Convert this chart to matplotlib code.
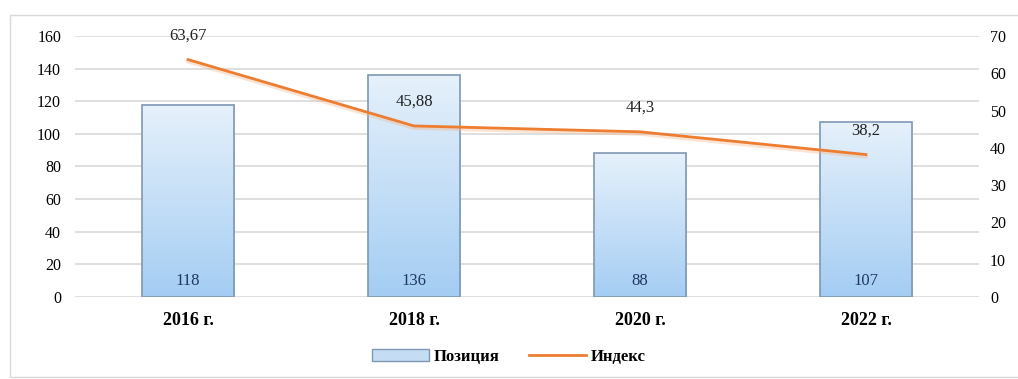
import matplotlib.pyplot as plt
import numpy as np
from matplotlib.patches import Rectangle
from matplotlib.colors import LinearSegmentedColormap

# data
years = ['2016 г.', '2018 г.', '2020 г.', '2022 г.']
positions = [118, 136, 88, 107]
index_vals = [63.67, 45.88, 44.3, 38.2]
index_labels = ['63,67', '45,88', '44,3', '38,2']

plt.rcParams['font.family'] = ['Liberation Serif', 'DejaVu Serif']

fig = plt.figure(figsize=(10.18, 3.79), dpi=100)
fig.patch.set_facecolor('white')

# outer chart frame
fig.add_artist(Rectangle((10 / 1018, 0.005), 1.2, 1 - 15 / 379 - 0.005,
                         transform=fig.transFigure, fill=False,
                         edgecolor='#d9d9d9', linewidth=1.0))

ax = fig.add_axes([75 / 1018, 1 - 297 / 379, 904 / 1018, 261 / 379])
x = np.arange(len(years))

bars = ax.bar(x, positions, width=0.41, facecolor='none',
              edgecolor='#7f98b3', linewidth=1.2, zorder=3, label='Позиция')

# vertical gradient fill inside each bar
grad = np.linspace(0, 1, 256).reshape(-1, 1)
cmap = LinearSegmentedColormap.from_list('bar', ['#a4cdf3', '#e6f1fb'])
for b in bars:
    ax.imshow(grad, extent=[b.get_x(), b.get_x() + b.get_width(), 0, b.get_height()],
              origin='lower', aspect='auto', cmap=cmap, zorder=2)

for xi, v in zip(x, positions):
    ax.text(xi, 10, str(v), ha='center', va='center', fontsize=12,
            color='#1f3864', zorder=4)

ax.set_xlim(-0.5, len(years) - 0.5)
ax.set_ylim(0, 160)
ax.set_yticks(np.arange(0, 161, 20))
ax.grid(axis='y', color='#d9d9d9', linewidth=1.2, zorder=0)
ax.set_axisbelow(True)
ax.set_xticks(x)
ax.set_xticklabels(years, fontsize=13, fontweight='bold')
ax.tick_params(axis='x', length=0, pad=11)
ax.tick_params(axis='y', length=0, labelsize=11.5, pad=10)
for s in ax.spines.values():
    s.set_visible(False)

ax2 = ax.twinx()
line, = ax2.plot(x, index_vals, color='#ed7d31', linewidth=2, label='Индекс',
                 zorder=5)
ax2.plot(x, np.array(index_vals) - 0.6, color='#f4b183', linewidth=2.5,
         alpha=0.35, zorder=4)
for xi, v, t in zip(x, index_vals, index_labels):
    ax2.text(xi, v + 6.5, t, ha='center', va='center', fontsize=12,
             color='#222222', zorder=6)
ax2.set_ylim(0, 70)
ax2.set_yticks(np.arange(0, 71, 10))
ax2.tick_params(axis='y', length=0, labelsize=11.5, pad=8)
for s in ax2.spines.values():
    s.set_visible(False)

leg_bar = Rectangle((0, 0), 1, 1, facecolor='#c5ddf4', edgecolor='#7f98b3')
fig.legend([leg_bar, line], ['Позиция', 'Индекс'], loc='center',
           bbox_to_anchor=(0.5, 1 - 357 / 379), ncol=2, frameon=False,
           prop={'size': 12, 'weight': 'bold'}, handlelength=3.4,
           columnspacing=1.8, handletextpad=0.3)

fig.savefig('out.png', dpi=100)
